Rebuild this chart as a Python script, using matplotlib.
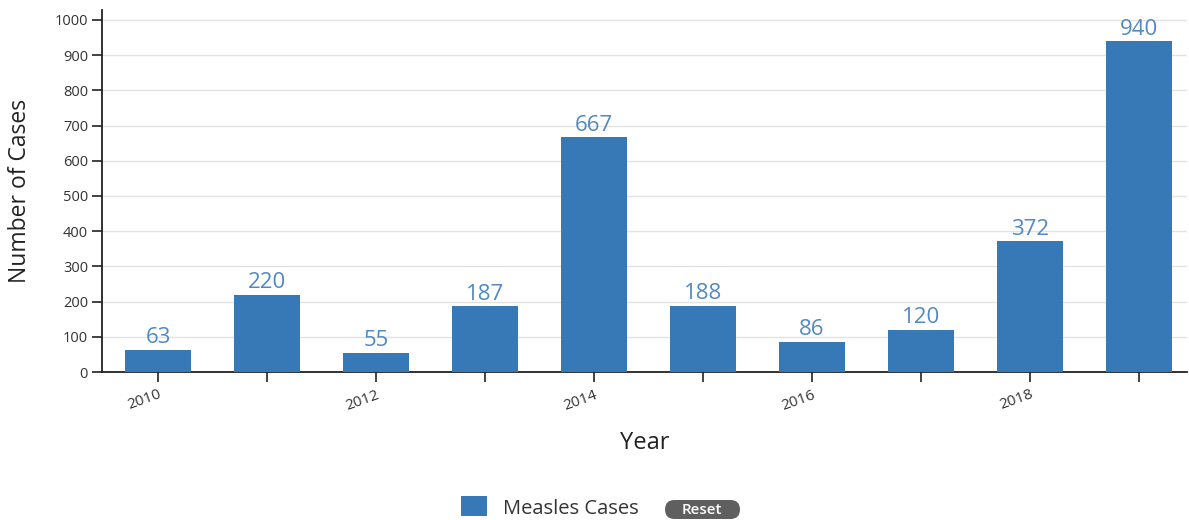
import matplotlib
matplotlib.use("Agg")
import matplotlib.pyplot as plt
from matplotlib.patches import FancyBboxPatch, Rectangle

years = [2010, 2011, 2012, 2013, 2014, 2015, 2016, 2017, 2018, 2019]
cases = [63, 220, 55, 187, 667, 188, 86, 120, 372, 940]
tick_labels = ["2010", "", "2012", "", "2014", "", "2016", "", "2018", ""]
yticks = list(range(0, 1001, 100))

plt.rcParams['font.family'] = ['Open Sans', 'DejaVu Sans']

bar_color = '#3779b6'
label_color = '#5089c4'

W, H = 1189, 520
fig = plt.figure(figsize=(W/100, H/100), dpi=100)
ax = fig.add_axes([102/W, 1-372/H, (1187-102)/W, (372-10)/H])

ax.bar(years, cases, width=0.6, color=bar_color, zorder=3)
for x, v in zip(years, cases):
    ax.text(x, v + 4, str(v), ha='center', va='bottom', fontsize=16,
            color=label_color, zorder=4)

ax.set_xlim(2009.485, 2019.44)
ax.set_ylim(0, 1028)
ax.set_yticks(yticks)
ax.set_xticks(years)
ax.set_xticklabels(tick_labels, rotation=20, ha='right', rotation_mode='anchor',
                   fontsize=11, color='#333333')
for t in ax.get_yticklabels():
    t.set_fontsize(10.5)
    t.set_color('#333333')

ax.grid(axis='y', color='#e3e3e3', linewidth=1, zorder=0)
for s in ['top', 'right']:
    ax.spines[s].set_visible(False)
for s in ['left', 'bottom']:
    ax.spines[s].set_color('#222222')
    ax.spines[s].set_linewidth(1.3)
ax.tick_params(axis='both', direction='out', length=7, width=1.2, color='#222222')
ax.tick_params(axis='x', pad=4)
ax.tick_params(axis='y', pad=3)

ax.set_ylabel("Number of Cases", fontsize=16.5, color='#222222', labelpad=16)
ax.set_xlabel("Year", fontsize=17, color='#222222', labelpad=13)

# legend (pixel coordinates, origin bottom-left)
def py(y):
    return H - y

fig.patches.append(Rectangle((461, py(516)), 26, 20, transform=None,
                             facecolor=bar_color, edgecolor='none'))
fig.text(503/W, 1-509/H, "Measles Cases", fontsize=14.5, va='center',
         ha='left', color='#333333')
fig.patches.append(FancyBboxPatch((665, py(519)), 75, 19, transform=None,
                                  boxstyle="round,pad=0,rounding_size=9.5",
                                  facecolor='#5f5f5f', edgecolor='none'))
fig.text(702/W, 1-510/H, "Reset", fontsize=11, va='center', ha='center',
         color='white', fontweight='semibold')

fig.savefig("out.png", dpi=100)
